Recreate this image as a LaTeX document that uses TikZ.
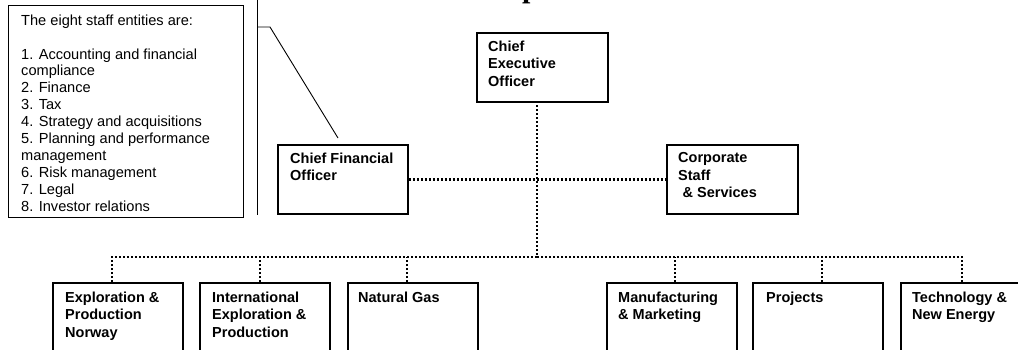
\documentclass[tikz,border=0pt]{standalone}
\usepackage{fontspec}
\setmainfont{Liberation Sans}
\newfontfamily\titlefont{Liberation Serif}
\begin{document}
\begin{tikzpicture}[x=1pt,y=-1pt,
  box/.style={draw, line width=1.8pt, anchor=north west, inner sep=0pt, minimum width=130, minimum height=69},
  boxtext/.style={anchor=north west, inner sep=0pt, align=left, font=\bfseries\fontsize{14.5}{17.5}\selectfont},
  dots/.style={line width=2.7pt, dash pattern=on 2.2pt off 1.8pt},
  thinline/.style={line width=0.9pt}]
\clip (0,0) rectangle (1018,349);
% partially visible title
\node[anchor=base west, inner sep=0pt, font=\titlefont\bfseries\fontsize{30}{30}\selectfont] (title) at (522,-3) {p};
% note box
\node[draw, line width=0.9pt, anchor=north west, inner sep=0pt, minimum width=235, minimum height=212] (note) at (8,5) {};
\node[anchor=north west, inner sep=0pt, align=left, font=\fontsize{14.6}{16.9}\selectfont] (notetext) at (21,14.5)
 {The eight staff entities are:\\[16.9pt]
  1. Accounting and financial\\
  compliance\\
  2. Finance\\
  3. Tax\\
  4. Strategy and acquisitions\\
  5. Planning and performance\\
  management\\
  6. Risk management\\
  7. Legal\\
  8. Investor relations};
\coordinate (vtop) at (257,0);
\coordinate (vbot) at (257,215);
\coordinate (calla) at (257,27);
\coordinate (callb) at (270,27);
\coordinate (calltip) at (338,138);
\draw[thinline] (vtop) -- (vbot);
\draw[thinline] (calla) -- (callb) -- (calltip);
% top level boxes
\node[box, minimum width=131] (ceo) at (476,32) {};
\node[boxtext] (ceot) at (488,40.5) {Chief\\Executive\\Officer};
\node[box] (cfo) at (277,144) {};
\node[boxtext] (cfot) at (290,152.5) {Chief Financial\\Officer};
\node[box, minimum width=131] (corp) at (666,144) {};
\node[boxtext] (corpt) at (678,152.5) {Corporate\\Staff\\\hspace*{4.5pt}\& Services};
% bottom boxes
\node[box, minimum height=90] (b1) at (52,282) {};
\node[box, minimum height=90] (b2) at (199,282) {};
\node[box, minimum height=90] (b3) at (347,282) {};
\node[box, minimum height=90] (b4) at (606,282) {};
\node[box, minimum height=90] (b5) at (752,282) {};
\node[box, minimum height=90] (b6) at (900,282) {};
\node[boxtext] (b1t) at (65,291.5) {Exploration \&\\Production\\Norway};
\node[boxtext] (b2t) at (212,291.5) {International\\Exploration \&\\Production};
\node[boxtext] (b3t) at (358,291.5) {Natural Gas};
\node[boxtext] (b4t) at (618,291.5) {Manufacturing\\\& Marketing};
\node[boxtext] (b5t) at (766,291.5) {Projects};
\node[boxtext] (b6t) at (912,291.5) {Technology \&\\New Energy};
% connectors
\coordinate (jtop) at (537,101);
\coordinate (jbus) at (537,257);
\draw[dots] (cfo.east) -- (corp.west);
\draw[dots] (jtop) -- (jbus);
\draw[dots] (b1.north -| 112,0) |- (jbus);
\draw[dots] (b6.north -| 962,0) |- (jbus);
\draw[dots] (b2.north -| 260,0) -- (260,257);
\draw[dots] (b3.north -| 407,0) -- (407,257);
\draw[dots] (b4.north -| 675,0) -- (675,257);
\draw[dots] (b5.north -| 822,0) -- (822,257);
\end{tikzpicture}
\end{document}
